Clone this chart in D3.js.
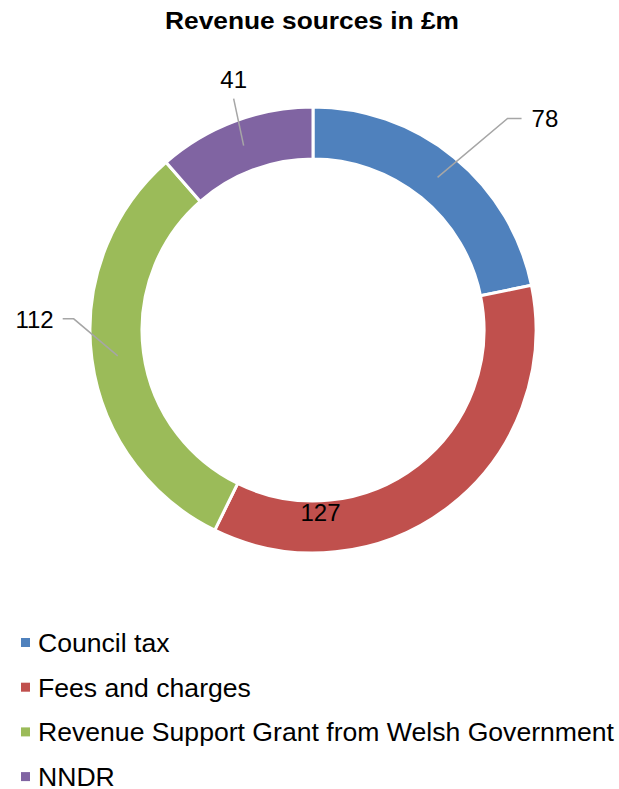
<!DOCTYPE html>
<html>
<head>
<meta charset="utf-8">
<script src="https://cdn.jsdelivr.net/npm/d3@7"></script>
<style>
	body { margin: 0; background: #fff; }
	text { font-family: "Liberation Sans", Arial, sans-serif; fill: #000; }
</style>
</head>
<body>
<script>
const w = 619;
const h = 789;

// * DATA
const categories = ["Council tax", "Fees and charges", "Revenue Support Grant from Welsh Government", "NNDR"];
const values = [78, 127, 112, 41];
const colours = ["#4F81BD", "#C0504D", "#9BBB59", "#8064A2"];

// label placement relative to slice centroid (text pos, leader knee)
const labelOffsets = [
	{ tx: 94, ty: -50, anchor: "start", knee: [70, -59], end: [84, -59] },
	{ tx: -113, ty: 35, anchor: "middle", knee: null, end: null },
	{ tx: -64, ty: -28, anchor: "end", knee: [-44, -37], end: [-55, -37] },
	{ tx: -10, ty: -58, anchor: "middle", knee: [-10, -47], end: [-10, -47] },
];

const cx = 313;
const cy = 330;
const outerR = 223;
const innerR = 171;
const labelR = 197;

// * SVG BASE SETUP
const svg = d3.select("body")
	.append("svg")
	.attr("width", w)
	.attr("height", h);

svg.append("text")
	.attr("x", 312)
	.attr("y", 29)
	.attr("text-anchor", "middle")
	.style("font-size", "24px")
	.style("font-weight", "bold")
	.attr("textLength", 294)
	.attr("lengthAdjust", "spacingAndGlyphs")
	.text("Revenue sources in £m");

// * DONUT
const pie = d3.pie().sort(null).value((d) => d);
const arcs = pie(values);
const arc = d3.arc().innerRadius(innerR).outerRadius(outerR);
const labelArc = d3.arc().innerRadius(labelR).outerRadius(labelR);

const g = svg.append("g").attr("transform", "translate(" + cx + "," + cy + ")");

g.selectAll("path.slice")
	.data(arcs)
	.enter()
	.append("path")
	.attr("class", "slice")
	.attr("d", arc)
	.attr("fill", (d, i) => colours[i])
	.attr("stroke", "#fff")
	.attr("stroke-width", 3);

// * LABELS
arcs.forEach((d, i) => {
	const c = labelArc.centroid(d);
	const o = labelOffsets[i];
	if (o.knee) {
		const pts = [c, [c[0] + o.knee[0], c[1] + o.knee[1]], [c[0] + o.end[0], c[1] + o.end[1]]];
		g.append("path")
			.attr("d", d3.line()(pts))
			.attr("fill", "none")
			.attr("stroke", "#A6A6A6")
			.attr("stroke-width", 1.5);
	}
	g.append("text")
		.attr("x", c[0] + o.tx)
		.attr("y", c[1] + o.ty)
		.attr("text-anchor", o.anchor)
		.style("font-size", "24px")
		.text(values[i]);
});

// * LEGEND
const legend = svg.append("g");
const rows = legend.selectAll("g")
	.data(categories)
	.enter()
	.append("g")
	.attr("transform", (d, i) => "translate(0," + (652 + i * 44.7) + ")");
rows.append("rect")
	.attr("x", 21)
	.attr("y", -14)
	.attr("width", 9)
	.attr("height", 9)
	.attr("fill", (d, i) => colours[i]);
rows.append("text")
	.attr("x", 38)
	.attr("y", 0)
	.style("font-size", "26.6px")
	.text((d) => d);
</script>
</body>
</html>
